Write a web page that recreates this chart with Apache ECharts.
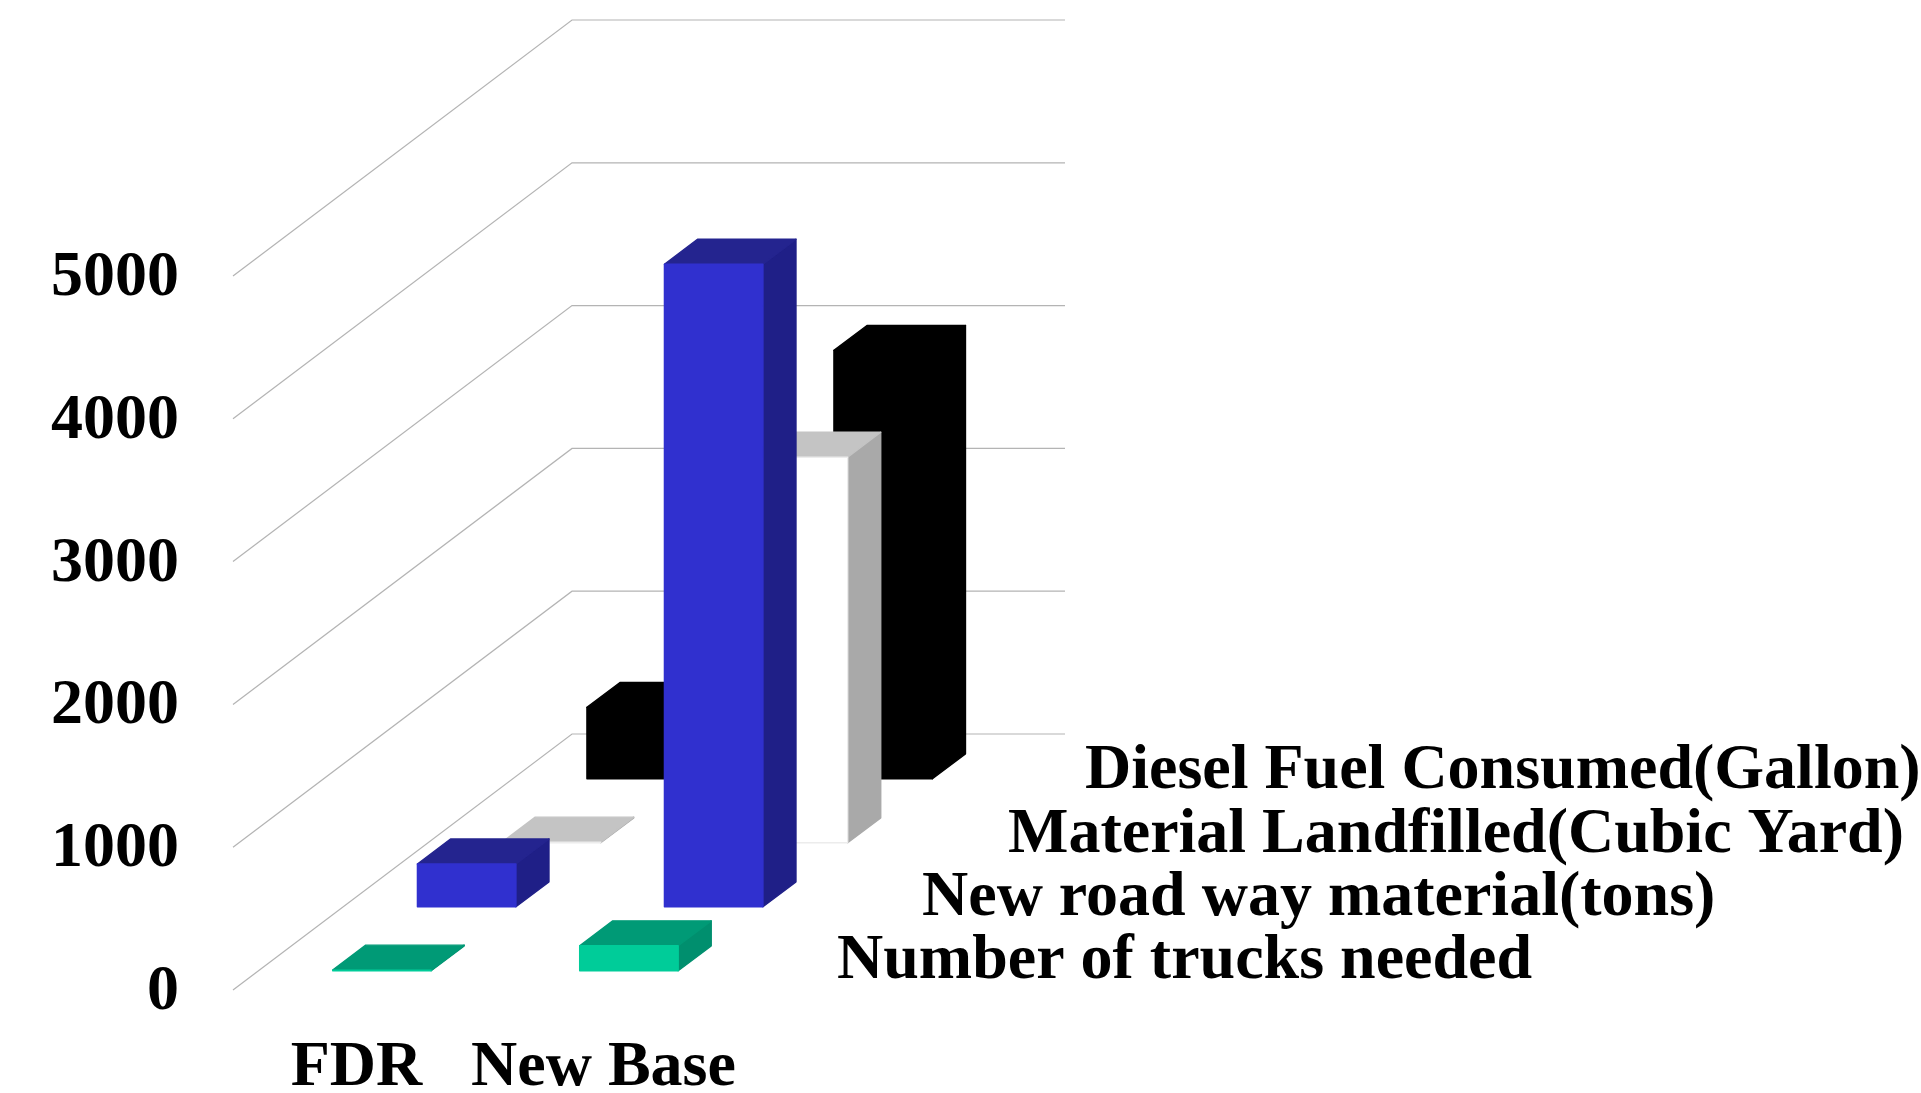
<!DOCTYPE html>
<html>
<head>
<meta charset="utf-8">
<title>FDR and New Base quantities</title>
<style>html,body{margin:0;padding:0;background:#fff}#chart{width:1921px;height:1093px}</style>
<script src="https://cdn.jsdelivr.net/npm/echarts@6/dist/echarts.min.js"></script>
</head>
<body>
<div id="chart"></div>
<script>
// Values per pavement option, front row to back row
const categories = ['FDR', 'New Base'];
const trucksNeeded = [5, 175];
const roadMaterial = [300, 4500];
const materialLandfilled = [5, 2700];
const dieselConsumed = [500, 3000];
const yTicks = [0, 1000, 2000, 3000, 4000, 5000];
const rowNames = ['Number of trucks needed', 'New road way material(tons)', 'Material Landfilled(Cubic Yard)', 'Diesel Fuel Consumed(Gallon)'];

// Oblique projection of the chart's depth axis
const ROW_DX = 84.75, ROW_DY = -64, ROWS = 4;
const GAP = 0.3, BAR_DEPTH = 0.39, BAR_WIDTH = 98.5, WALL_WIDTH = 493;
const FONT = '"Liberation Serif", "Times New Roman", serif';
const FONT_SIZE = 64;
const rowLabelLeft = [837, 922, 1008, 1085];
const rowLabelMiddle = [961, 898, 835, 771];

const rowStyles = [
  { front: '#00cc99', frontEdge: '#00cc99', top: '#009a76', side: '#008f6e' },
  { front: '#3030cf', frontEdge: '#3030cf', top: '#24248f', side: '#1f1f87' },
  { front: '#ffffff', frontEdge: '#ececec', top: '#c4c4c4', side: '#a9a9a9' },
  { front: '#000000', frontEdge: '#000000', top: '#000000', side: '#000000' }
];

function poly(points, fill, edge) {
  return { type: 'polygon', shape: { points }, style: { fill, stroke: edge || fill, lineWidth: 1.4, lineJoin: 'round' }, silent: true };
}

function barRenderer(row) {
  return function (params, api) {
    const cat = api.value(0);
    const base = api.coord([cat, 0]);
    const top = api.coord([cat, api.value(1)]);
    const x0 = base[0] - BAR_WIDTH / 2 + ROW_DX * (row + GAP);
    const x1 = x0 + BAR_WIDTH;
    const shift = ROW_DY * (row + GAP);
    const yb = base[1] + shift;
    const yt = top[1] + shift;
    const dx = ROW_DX * BAR_DEPTH, dy = ROW_DY * BAR_DEPTH;
    const s = rowStyles[row];
    return {
      type: 'group',
      children: [
        poly([[x1, yb], [x1 + dx, yb + dy], [x1 + dx, yt + dy], [x1, yt]], s.side),
        poly([[x0, yt], [x1, yt], [x1 + dx, yt + dy], [x0 + dx, yt + dy]], s.top),
        poly([[x0, yb], [x1, yb], [x1, yt], [x0, yt]], s.front, s.frontEdge)
      ]
    };
  };
}

function gridRenderer(params, api) {
  const y = api.coord([0, api.value(0)])[1];
  const left = params.coordSys.x;
  const dx = ROW_DX * ROWS, dy = ROW_DY * ROWS;
  return {
    type: 'polyline',
    shape: { points: [[left, y], [left + dx, y + dy], [left + dx + WALL_WIDTH, y + dy]] },
    style: { stroke: '#b4b4b4', lineWidth: 1.2, fill: null },
    silent: true
  };
}

function rowLabelRenderer(params, api) {
  const i = api.value(0);
  return {
    type: 'text',
    x: rowLabelLeft[i],
    y: rowLabelMiddle[i],
    style: {
      text: rowNames[i],
      font: 'bold ' + FONT_SIZE + 'px ' + FONT,
      fill: '#000',
      textAlign: 'left',
      textVerticalAlign: 'middle'
    },
    silent: true
  };
}

const rows = [trucksNeeded, roadMaterial, materialLandfilled, dieselConsumed];
// Back rows get the lowest z so nearer bars paint over them
const barSeries = rows.map((values, row) => ({
  type: 'custom',
  name: rowNames[row],
  coordinateSystem: 'cartesian2d',
  renderItem: barRenderer(row),
  data: values.map((v, c) => [c, v]),
  encode: { x: 0, y: 1 },
  z: 10 - row,
  clip: false,
  silent: true
}));

const chart = echarts.init(document.getElementById('chart'), null, { renderer: 'canvas' });
chart.setOption({
  animation: false,
  backgroundColor: '#ffffff',
  grid: { left: 233, top: 276, width: 494, height: 714, outerBoundsMode: 'none' },
  xAxis: {
    type: 'category',
    data: categories,
    axisLine: { show: false },
    axisTick: { show: false },
    splitLine: { show: false },
    axisLabel: { color: '#000', fontFamily: FONT, fontWeight: 'bold', fontSize: FONT_SIZE, margin: 46, interval: 0 }
  },
  yAxis: {
    type: 'value',
    min: 0,
    max: 5000,
    interval: 1000,
    axisLine: { show: false },
    axisTick: { show: false },
    splitLine: { show: false },
    axisLabel: { color: '#000', fontFamily: FONT, fontWeight: 'bold', fontSize: FONT_SIZE, margin: 54, verticalAlign: 'top', lineHeight: 5, formatter: v => String(v) }
  },
  series: [
    {
      type: 'custom',
      coordinateSystem: 'cartesian2d',
      renderItem: gridRenderer,
      data: yTicks.map(v => [v]),
      encode: { y: 0 },
      z: 1,
      clip: false,
      silent: true
    },
    ...barSeries,
    {
      type: 'custom',
      coordinateSystem: 'cartesian2d',
      renderItem: rowLabelRenderer,
      data: rowNames.map((n, i) => [i]),
      encode: { x: 0 },
      z: 20,
      clip: false,
      silent: true
    }
  ]
});
</script>
</body>
</html>
